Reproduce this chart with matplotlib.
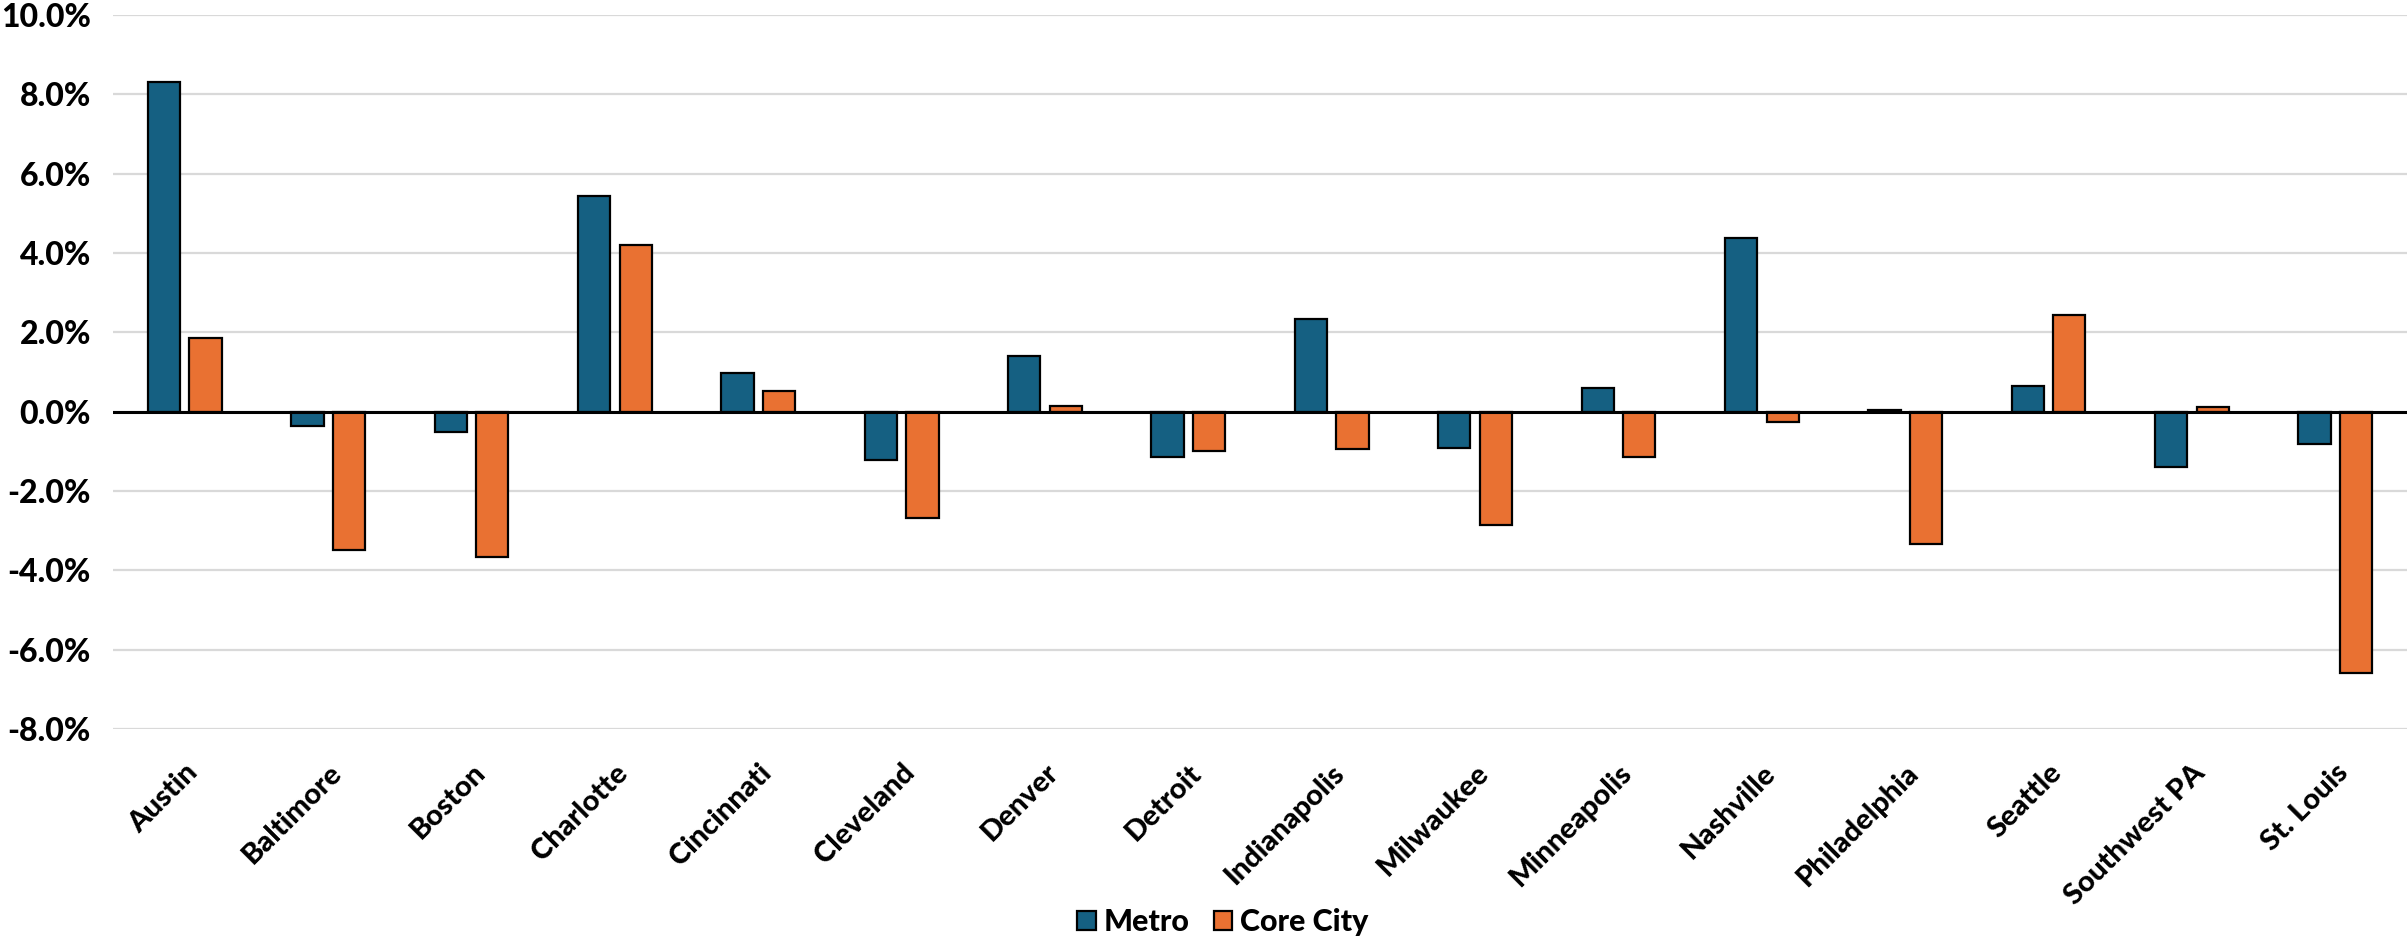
import matplotlib.pyplot as plt
import numpy as np
from matplotlib.ticker import FuncFormatter

cities = ["Austin", "Baltimore", "Boston", "Charlotte", "Cincinnati", "Cleveland",
          "Denver", "Detroit", "Indianapolis", "Milwaukee", "Minneapolis",
          "Nashville", "Philadelphia", "Seattle", "Southwest PA", "St. Louis"]
metro = [8.32, -0.35, -0.51, 5.45, 0.97, -1.23, 1.40, -1.15, 2.34, -0.91,
         0.59, 4.37, 0.03, 0.65, -1.39, -0.82]
core_city = [1.87, -3.49, -3.66, 4.20, 0.51, -2.68, 0.14, -0.98, -0.95, -2.87,
             -1.14, -0.25, -3.33, 2.45, 0.11, -6.58]

plt.rcParams['font.family'] = ['Lato', 'DejaVu Sans']
plt.rcParams['font.weight'] = 'black'

fig = plt.figure(figsize=(24.07, 9.43), dpi=100)
ax = fig.add_axes([0.047, 0.227, 0.953, 0.757])

x = np.arange(len(cities))
w = 0.225
off = 0.145
ax.bar(x - off, metro, w, color="#156082", edgecolor="black", linewidth=1.6,
       label="Metro", zorder=3)
ax.bar(x + off, core_city, w, color="#E97132", edgecolor="black", linewidth=1.6,
       label="Core City", zorder=3)

ax.axhline(0, color="black", linewidth=2.2, zorder=4)
ax.set_ylim(-8, 10)
ax.set_yticks(np.arange(-8, 10.1, 2))
ax.yaxis.set_major_formatter(FuncFormatter(lambda v, p: f"{v:.1f}%"))
ax.set_xlim(-0.5, len(cities) - 0.5)
ax.grid(axis="y", color="#D9D9D9", linewidth=1.6, zorder=0)
ax.set_axisbelow(True)
for s in ax.spines.values():
    s.set_visible(False)
ax.tick_params(length=0)
ax.tick_params(axis="y", labelsize=23, pad=16)
ax.set_xticks(x)
ax.set_xticklabels(cities, rotation=45, ha="right", rotation_mode="anchor",
                   fontsize=21, fontweight="black")
ax.tick_params(axis="x", pad=22)
for t in ax.get_yticklabels():
    t.set_fontweight("black")

leg = fig.legend(loc="center", bbox_to_anchor=(0.508, 0.022), ncol=2, frameon=False,
                 fontsize=22, handlelength=0.6, handleheight=0.6, handletextpad=0.25,
                 columnspacing=0.8)
for t in leg.get_texts():
    t.set_fontweight("black")

fig.savefig("out.png", dpi=100)
